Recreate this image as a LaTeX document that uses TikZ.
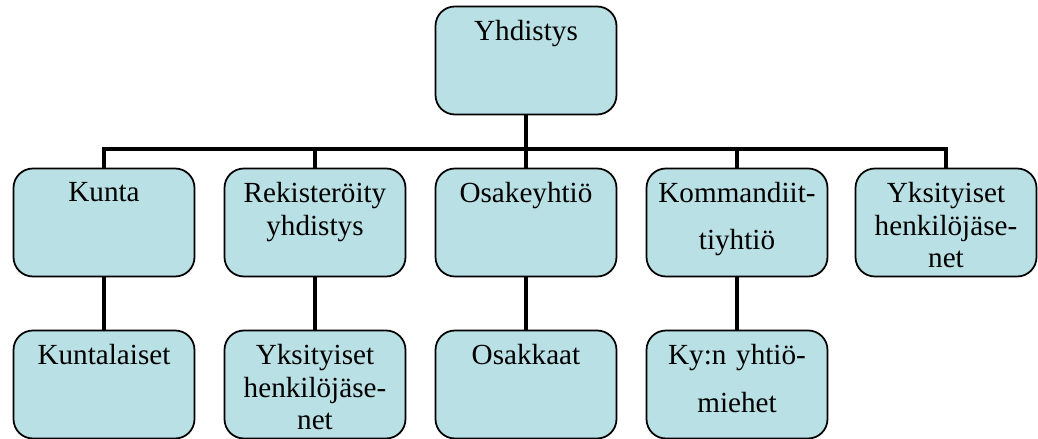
\documentclass[tikz,border=0pt]{standalone}
\usepackage{fontspec}
\setmainfont{Liberation Serif}

\definecolor{boxfill}{RGB}{185,224,228}

\tikzset{
  orgbox/.style={draw, line width=1pt, fill=boxfill, rounded corners=11pt,
    minimum width=3.62cm, minimum height=2.16cm, inner sep=0pt},
  orgtext/.style={anchor=north, yshift=-8pt, inner sep=0pt, align=center,
    text width=3.5cm, font=\fontsize{16.6}{18.7}\selectfont},
  link/.style={line width=2.8pt}
}

\begin{document}
\begin{tikzpicture}[x=0.02cm,y=0.02cm]
  \useasboundingbox (0,0) rectangle (1038,439);

  % upper levels
  \node[orgbox, label={[orgtext]north:Yhdistys}] (yhdistys) at (526,378.5) {};
  \node[orgbox, label={[orgtext]north:Kunta}] (kunta) at (104,216.5) {};
  \node[orgbox, label={[orgtext]north:{Rekisteröity\\yhdistys}}] (ry) at (315,216.5) {};
  \node[orgbox, label={[orgtext]north:Osakeyhtiö}] (oy) at (526,216.5) {};
  \node[orgbox, label={[orgtext]north:{Kommandiit-\\[8pt]tiyhtiö}}] (ky) at (737,216.5) {};
  \node[orgbox, label={[orgtext]north:{Yksityiset\\henkilöjäse-\\net}}] (jasenet) at (946,216.5) {};

  % members
  \node[orgbox, label={[orgtext]north:Kuntalaiset}] (kuntalaiset) at (104,54.5) {};
  \node[orgbox, label={[orgtext]north:{Yksityiset\\henkilöjäse-\\net}}] (ryjasenet) at (315,54.5) {};
  \node[orgbox, label={[orgtext]north:Osakkaat}] (osakkaat) at (526,54.5) {};
  \node[orgbox, label={[orgtext]north:{Ky:n yhtiö-\\[9pt]miehet}}] (yhtiomiehet) at (737,54.5) {};

  \coordinate (bus) at (526,290);
  \draw[link] (yhdistys.south) -- (bus);
  \draw[link] (kunta.north) |- (bus) -| (jasenet.north);
  \foreach \n in {ry,oy,ky}
    \draw[link] (\n.north) -- (\n.north |- bus);
  \draw[link] (kunta.south) -- (kuntalaiset.north);
  \draw[link] (ry.south) -- (ryjasenet.north);
  \draw[link] (oy.south) -- (osakkaat.north);
  \draw[link] (ky.south) -- (yhtiomiehet.north);
\end{tikzpicture}
\end{document}
